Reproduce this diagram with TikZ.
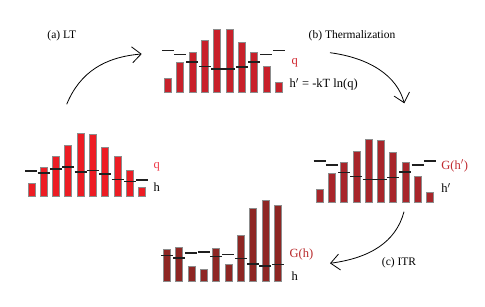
\documentclass[tikz,border=0pt]{standalone}
\usepackage{fontspec}
\setmainfont{Liberation Serif}
\usetikzlibrary{arrows.meta}
\definecolor{redA}{HTML}{ED1C24}
\definecolor{redB}{HTML}{C8202A}
\definecolor{redC}{HTML}{A8252A}
\definecolor{redD}{HTML}{8E2623}
\definecolor{labA}{HTML}{EE3A48}
\definecolor{labB}{HTML}{D0242C}
\definecolor{labC}{HTML}{C0282E}
\definecolor{labD}{HTML}{B8282A}
\tikzset{
  bar/.style={draw=black!45, line width=0.4pt},
  tick/.style={draw=black!88, line width=1.6pt},
  cyc/.style={draw=black, line width=0.8pt, -{Straight Barb[length=9pt,width=16pt,line width=0.8pt]}},
  steplab/.style={font=\fontsize{11.5}{13}\selectfont, inner sep=0pt},
  panlab/.style={font=\fontsize{12.5}{14}\selectfont, inner sep=0pt, anchor=base west},
}
% #1 x0, #2 spacing, #3 bottom, #4 colour, #5 list i/top/tick
\newcommand{\barpanel}[5]{%
  \foreach \i/\tp/\tk in {#5} {
    \pgfmathsetmacro{\xl}{#1+\i*#2}
    \pgfmathsetmacro{\xc}{\xl+3.5}
    \path[bar, fill=#4] (\xl,#3) rectangle (\xl+7,\tp);
    \path[tick] (\xc-6,\tk) -- (\xc+6,\tk);
  }%
}
\begin{document}
\begin{tikzpicture}[x=1pt,y=-1pt]
\useasboundingbox (0,0) rectangle (485,307);
% left panel (LT input)
\barpanel{27.7}{12.33}{196.7}{redA}{0/183.3/171.3,1/167.3/173.3,2/156.7/169,3/145.3/167,4/133.3/172.3,5/134.3/170.7,6/147/174,7/156.7/179.7,8/170.7/181.7,9/187.3/180.3}
\node[panlab, text=labA] (qL) at (153.5,168.3) {q};
\node[panlab] (hL) at (153.5,191.7) {h};
% top panel
\barpanel{164.3}{12.33}{92.3}{redB}{0/78.3/50.7,1/62.3/54.7,2/52/62,3/40.7/66.7,4/29/69,5/29.7/69,6/42.3/67,7/52/62,8/66/54.7,9/82/50.7}
\node[panlab, text=labB] (qT) at (291.5,64.3) {q};
\node[panlab] (hT) at (289.5,87.5) {h$'$ = -kT ln(q)};
% right panel
\barpanel{316}{12.26}{202.7}{redC}{0/189/161,1/173/165,2/162.3/172.7,3/151/176.7,4/139/179.7,5/140/179.7,6/152.7/177.7,7/162.3/172.3,8/176.3/165,9/192.3/161}
\node[panlab, text=labC] (gR) at (441.2,169.3) {G(h$'$)};
\node[panlab] (hR) at (441.2,192.7) {h$'$};
% bottom panel
\barpanel{163.3}{12.33}{281}{redD}{0/249/255.7,1/247/258,2/266/253.3,3/269.3/252,4/248/256.7,5/264.7/254.7,6/235.3/258.7,7/208.3/264,8/200.7/266,9/205/264.7}
\node[panlab, text=labD] (gB) at (289.5,258) {G(h)};
\node[panlab] (hB) at (291.5,280.7) {h};
% step labels
\node[steplab] (la) at (61.8,35.7) {(a) LT};
\node[steplab] (lb) at (352,35.7) {(b) Thermalization};
\node[steplab] (lc) at (399,262.7) {(c) ITR};
% arrows
\coordinate (a0) at (66.7,104.3);
\coordinate (a1) at (141.7,54);
\coordinate (b0) at (330,52.7);
\coordinate (b1) at (404.3,103.3);
\coordinate (c0) at (404,211.7);
\coordinate (c1) at (330,263.3);
\draw[cyc] (a0) .. controls (80,72) and (105,57) .. (a1);
\draw[cyc] (b0) .. controls (370,58) and (397,76) .. (b1);
\draw[cyc] (c0) .. controls (396,242) and (370,258) .. (c1);
\end{tikzpicture}
\end{document}
